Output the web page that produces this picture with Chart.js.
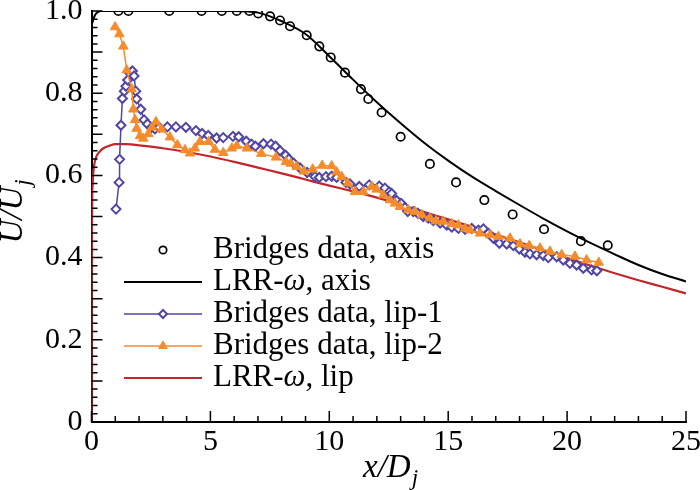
<!DOCTYPE html>
<html>
<head>
<meta charset="utf-8">
<script src="https://cdn.jsdelivr.net/npm/chart.js@4.4.1/dist/chart.umd.min.js"></script>
<style>
  body { margin: 0; background: #fff; }
</style>
</head>
<body>
<canvas id="chart" width="700" height="490"></canvas>
<script>
// Bridges data, axis (circles)
const axisDataX = [1.13, 1.55, 3.27, 4.63, 5.48, 6.11, 6.64, 7.01, 7.51, 7.93, 8.35, 9.05, 9.58, 10.06, 10.66, 11.33, 11.64, 12.2, 13.0, 14.23, 15.33, 16.52, 17.71, 19.03, 20.58, 21.71]
const axisDataU = [1.0, 1.0, 1.0, 1.0, 1.0, 1.0, 1.0, 0.994, 0.987, 0.977, 0.963, 0.941, 0.914, 0.887, 0.85, 0.81, 0.786, 0.753, 0.694, 0.628, 0.583, 0.54, 0.505, 0.469, 0.44, 0.43]

// LRR-omega, axis
const axisLineX = [0, 0.15, 0.4, 2, 4, 6, 7, 8, 9, 10, 11, 12, 13, 14, 15, 16, 17, 18, 19, 20, 21, 22, 23, 24, 25]
const axisLineU = [0.965, 0.99, 1.0, 1.0, 1.0, 1.0, 0.996, 0.975, 0.944, 0.89, 0.833, 0.778, 0.727, 0.679, 0.636, 0.597, 0.562, 0.528, 0.495, 0.464, 0.435, 0.408, 0.382, 0.36, 0.342]

// Bridges data, lip-1 (diamonds)
const lip1X = [1.03, 1.16, 1.18, 1.24, 1.30, 1.38, 1.45, 1.52, 1.62, 1.72, 1.79, 1.86, 1.90, 2.07, 2.21, 2.35, 2.53, 2.67, 2.85, 3.19, 3.55, 3.97, 4.39, 4.65, 4.91, 5.26, 5.54, 5.95, 6.19, 6.51, 6.73, 6.89, 7.23, 7.55, 7.74, 7.93, 8.16, 8.30, 8.50, 8.77, 9.07, 9.40, 9.58, 9.86, 10.10, 10.31, 10.70, 10.87, 11.26, 11.68, 12.10, 12.34, 12.52, 12.62, 12.83, 13.02, 13.18, 13.30, 13.53, 13.72, 13.95, 14.16, 14.37, 14.66, 14.94, 15.15, 15.43, 15.71, 15.99, 16.27, 16.48, 16.69, 16.90, 17.15, 17.46, 17.74, 17.99, 18.23, 18.44, 18.72, 19.00, 19.21, 19.56, 19.84, 20.12, 20.40, 20.68, 21.03, 21.25]
const lip1U = [0.518, 0.583, 0.639, 0.722, 0.787, 0.805, 0.817, 0.832, 0.848, 0.854, 0.842, 0.805, 0.786, 0.761, 0.735, 0.725, 0.717, 0.713, 0.717, 0.718, 0.718, 0.717, 0.709, 0.702, 0.697, 0.691, 0.692, 0.695, 0.694, 0.683, 0.676, 0.671, 0.677, 0.676, 0.671, 0.660, 0.649, 0.640, 0.630, 0.618, 0.607, 0.597, 0.595, 0.597, 0.598, 0.595, 0.583, 0.579, 0.573, 0.577, 0.574, 0.569, 0.560, 0.556, 0.539, 0.532, 0.522, 0.512, 0.512, 0.508, 0.500, 0.496, 0.490, 0.484, 0.479, 0.474, 0.471, 0.469, 0.471, 0.467, 0.470, 0.459, 0.447, 0.435, 0.433, 0.429, 0.421, 0.413, 0.409, 0.407, 0.405, 0.400, 0.402, 0.394, 0.386, 0.382, 0.374, 0.370, 0.368]

// Bridges data, lip-2 (triangles)
const lip2X = [0.99, 1.17, 1.34, 1.48, 1.69, 1.76, 1.83, 1.90, 2.04, 2.18, 2.39, 2.55, 2.71, 2.95, 3.30, 3.61, 3.93, 4.14, 4.35, 4.56, 4.93, 5.19, 5.54, 5.90, 6.11, 6.53, 7.14, 7.76, 8.18, 8.38, 8.63, 8.93, 9.30, 9.70, 10.10, 10.31, 10.52, 10.78, 11.08, 11.43, 11.78, 11.99, 12.27, 12.55, 12.76, 12.97, 13.32, 13.60, 13.89, 14.23, 14.49, 14.79, 15.15, 15.43, 15.71, 15.92, 16.34, 16.76, 17.11, 17.60, 18.02, 18.41, 18.86, 19.28, 19.77, 20.33, 20.82, 21.33]
const lip2U = [0.961, 0.944, 0.914, 0.856, 0.810, 0.761, 0.735, 0.714, 0.696, 0.690, 0.701, 0.717, 0.730, 0.712, 0.693, 0.674, 0.662, 0.654, 0.666, 0.682, 0.682, 0.663, 0.655, 0.666, 0.672, 0.666, 0.653, 0.644, 0.633, 0.629, 0.621, 0.610, 0.615, 0.624, 0.623, 0.608, 0.597, 0.581, 0.560, 0.560, 0.573, 0.566, 0.552, 0.540, 0.532, 0.524, 0.516, 0.512, 0.504, 0.496, 0.489, 0.488, 0.482, 0.479, 0.471, 0.467, 0.459, 0.455, 0.451, 0.447, 0.433, 0.429, 0.423, 0.415, 0.407, 0.403, 0.394, 0.388]

// LRR-omega, lip
const lipLineX = [0, 0.005, 0.02, 0.05, 0.1, 0.2, 0.35, 0.5, 0.75, 1.0, 1.5, 2, 3, 4, 5, 6, 7, 8, 9, 10, 11, 12, 13, 14, 15, 16, 17, 18, 19, 20, 21, 22, 23, 24, 25]
const lipLineU = [0, 0.3, 0.5, 0.58, 0.62, 0.645, 0.658, 0.666, 0.672, 0.676, 0.676, 0.673, 0.666, 0.657, 0.646, 0.633, 0.619, 0.605, 0.59, 0.575, 0.561, 0.546, 0.529, 0.511, 0.493, 0.475, 0.456, 0.437, 0.418, 0.399, 0.38, 0.362, 0.345, 0.329, 0.313]

const xTicks = [0, 5, 10, 15, 20, 25]
const xTickLabels = ['0', '5', '10', '15', '20', '25']
const yTicks = [0, 0.2, 0.4, 0.6, 0.8, 1.0]
const yTickLabels = ['0', '0.2', '0.4', '0.6', '0.8', '1.0']

const PURPLE = '#4F46A5'
const ORANGE = '#F68B2C'
const RED = '#C0262C'

// ищем установленный шрифт с засечками
function pickSerif() {
    const names = ['Liberation Serif', 'Times New Roman', 'Tinos', 'Nimbus Roman', 'DejaVu Serif', 'Noto Serif']
    const c = document.createElement('canvas').getContext('2d')
    const probe = 'Bridges data, axis 0.123'
    const width = f => { c.font = f; return c.measureText(probe).width }
    for (const n of names) {
        const a = width(`30px "${n}", monospace`) !== width('30px monospace')
        const b = width(`30px "${n}", sans-serif`) !== width('30px sans-serif')
        if (a && b) return `"${n}", serif`
    }
    return 'serif'
}
const SERIF = pickSerif()

function toPoints(xs, ys) {
    return xs.map((x, i) => ({ x: x, y: ys[i] }))
}

// подписи легенды: [текст, курсив]
const legendRows = [
    { ds: 0, parts: [['Bridges data, axis', false]] },
    { ds: 1, parts: [['LRR-', false], ['\u03c9', true], [', axis', false]] },
    { ds: 2, parts: [['Bridges data, lip-1', false]] },
    { ds: 3, parts: [['Bridges data, lip-2', false]] },
    { ds: 4, parts: [['LRR-', false], ['\u03c9', true], [', lip', false]] }
]

const decorPlugin = {
    id: 'decor',
    afterDraw(chart) {
        const ctx = chart.ctx
        const xs = chart.scales.x
        const ys = chart.scales.y
        const area = chart.chartArea

        // внутренние штрихи
        ctx.save()
        ctx.strokeStyle = '#000'
        ctx.lineWidth = 1.5
        ctx.beginPath()
        for (let i = 0; i <= 50; i++) {
            const py = ys.getPixelForValue(i / 50)
            const len = i % 5 === 0 ? 11 : 6
            ctx.moveTo(area.left, py)
            ctx.lineTo(area.left + len, py)
        }
        for (let i = 0; i <= 25; i++) {
            const px = xs.getPixelForValue(i)
            const len = i % 5 === 0 ? 11 : 6
            ctx.moveTo(px, area.bottom)
            ctx.lineTo(px, area.bottom - len)
        }
        ctx.stroke()
        ctx.restore()

        // легенда
        ctx.save()
        const x0 = 124, x1 = 202, tx = 213
        const rowY = [250, 282, 314, 346, 378]
        legendRows.forEach((row, i) => {
            const ds = chart.data.datasets[row.ds]
            const y = rowY[i]
            if (ds.showLine !== false) {
                ctx.strokeStyle = ds.borderColor
                ctx.lineWidth = ds.borderWidth
                ctx.beginPath()
                ctx.moveTo(x0, y)
                ctx.lineTo(x1, y)
                ctx.stroke()
            }
            if (ds.pointRadius > 0) {
                ctx.fillStyle = ds.pointBackgroundColor
                ctx.strokeStyle = ds.pointBorderColor
                ctx.lineWidth = ds.pointBorderWidth
                Chart.helpers.drawPoint(ctx, {
                    pointStyle: ds.pointStyle,
                    radius: ds.pointRadius - 0.5,
                    rotation: 0,
                    borderWidth: ds.pointBorderWidth
                }, (x0 + x1) / 2, y)
            }
            ctx.fillStyle = '#000'
            ctx.textBaseline = 'middle'
            ctx.textAlign = 'left'
            let cx = tx
            row.parts.forEach(p => {
                ctx.font = (p[1] ? 'italic ' : '') + '31px ' + SERIF
                ctx.fillText(p[0], cx, y)
                cx += ctx.measureText(p[0]).width
            })
        })
        ctx.restore()

        // подписи осей
        ctx.save()
        ctx.fillStyle = '#000'
        ctx.textBaseline = 'alphabetic'
        ctx.textAlign = 'left'
        const main = 'italic 33px ' + SERIF
        const sub = 'italic 23px ' + SERIF
        ctx.font = main
        let w1 = ctx.measureText('x/D').width
        ctx.font = sub
        let w2 = ctx.measureText('j').width
        let sx = 390 - (w1 + w2) / 2
        ctx.font = main
        ctx.fillText('x/D', sx, 477)
        ctx.font = sub
        ctx.fillText('j', sx + w1 + 1, 485)

        ctx.translate(22, 212)
        ctx.rotate(-Math.PI / 2)
        ctx.font = main
        w1 = ctx.measureText('U/U').width
        ctx.font = sub
        w2 = ctx.measureText('j').width
        sx = -(w1 + w2) / 2
        ctx.font = main
        ctx.fillText('U/U', sx, 0)
        ctx.font = sub
        ctx.fillText('j', sx + w1 + 1, 8)
        ctx.restore()
    }
}

const ctx = document.getElementById('chart')
const chart = new Chart(ctx, {
    type: 'scatter',
    data: {
        datasets: [
            {
                data: toPoints(axisDataX, axisDataU),
                showLine: false,
                pointStyle: 'circle',
                pointRadius: 4.2,
                pointBorderWidth: 1.7,
                pointBorderColor: '#000',
                pointBackgroundColor: 'rgba(0,0,0,0)',
                borderColor: '#000',
                borderWidth: 1.7,
                order: 0
            },
            {
                data: toPoints(axisLineX, axisLineU),
                showLine: true,
                borderColor: '#000',
                borderWidth: 2,
                pointRadius: 0,
                cubicInterpolationMode: 'monotone',
                order: 1
            },
            {
                data: toPoints(lip1X, lip1U),
                showLine: true,
                borderColor: PURPLE,
                borderWidth: 1.5,
                pointStyle: 'rectRot',
                pointRadius: 4.5,
                pointBorderWidth: 2,
                pointBorderColor: PURPLE,
                pointBackgroundColor: '#fff',
                order: 3
            },
            {
                data: toPoints(lip2X, lip2U),
                showLine: true,
                borderColor: ORANGE,
                borderWidth: 1.5,
                pointStyle: 'triangle',
                pointRadius: 5.5,
                pointBorderWidth: 1,
                pointBorderColor: ORANGE,
                pointBackgroundColor: ORANGE,
                order: 2
            },
            {
                data: toPoints(lipLineX, lipLineU),
                showLine: true,
                borderColor: RED,
                borderWidth: 2.2,
                pointRadius: 0,
                cubicInterpolationMode: 'monotone',
                order: 4
            }
        ]
    },
    options: {
        responsive: false,
        animation: false,
        layout: { padding: { left: 0, right: 14, top: 11, bottom: 0 } },
        plugins: {
            legend: { display: false },
            tooltip: { enabled: false }
        },
        scales: {
            x: {
                type: 'linear',
                min: 0,
                max: 25,
                afterBuildTicks: s => { s.ticks = xTicks.map(v => ({ value: v })) },
                afterFit: s => { s.height = 68; s.paddingLeft = 0; s.paddingRight = 0 },
                ticks: {
                    autoSkip: false,
                    maxRotation: 0,
                    padding: 2,
                    color: '#000',
                    font: { family: SERIF, size: 30 },
                    callback: v => xTickLabels[xTicks.indexOf(v)]
                },
                grid: { display: false, drawTicks: false },
                border: { display: true, color: '#000', width: 2 }
            },
            y: {
                type: 'linear',
                min: 0,
                max: 1,
                afterBuildTicks: s => { s.ticks = yTicks.map(v => ({ value: v })) },
                afterFit: s => { s.width = 91.5; s.paddingTop = 0; s.paddingBottom = 0 },
                ticks: {
                    autoSkip: false,
                    padding: 9,
                    color: '#000',
                    font: { family: SERIF, size: 30 },
                    callback: v => yTickLabels[yTicks.indexOf(v)]
                },
                grid: { display: false, drawTicks: false },
                border: { display: true, color: '#000', width: 2 }
            }
        }
    },
    plugins: [decorPlugin]
})
</script>
</body>
</html>
